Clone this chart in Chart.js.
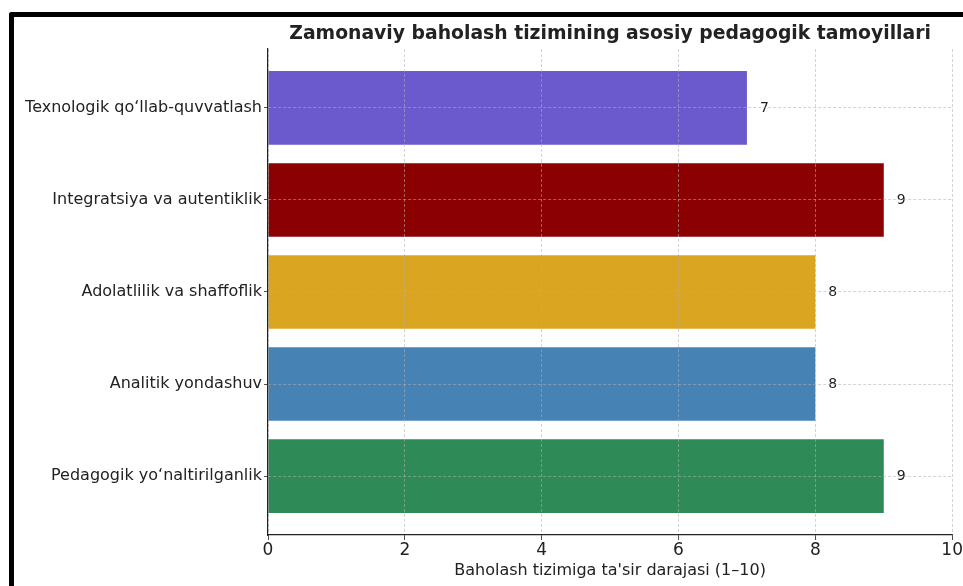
<!DOCTYPE html>
<html>
<head>
<meta charset="utf-8">
<script src="https://cdn.jsdelivr.net/npm/chart.js@4.4.1/dist/chart.umd.min.js"></script>
<style>
    body { margin: 0; background: #fff; }
    #wrap { position: relative; width: 963px; height: 586px; overflow: hidden; }
    #frame {
        position: absolute; left: 9px; top: 12px; width: 1000px; height: 600px;
        border-left: 5px solid #000; border-top: 5px solid #000;
        border-top-left-radius: 3px; pointer-events: none;
    }
</style>
</head>
<body>
<div id="wrap">
    <canvas id="chart"></canvas>
    <div id="frame"></div>
</div>
<script>
// data, bottom to top
const categories = ['Pedagogik yo\u2018naltirilganlik', 'Analitik yondashuv', 'Adolatlilik va shaffoflik', 'Integratsiya va autentiklik', 'Texnologik qo\u2018llab-quvvatlash'];
const scores = [9, 8, 8, 9, 7];
const barColors = ['#2E8B57', '#4682B4', '#DAA520', '#8B0000', '#6A5ACD'];
const xTicks = [0, 2, 4, 6, 8, 10];
const chartTitle = 'Zamonaviy baholash tizimining asosiy pedagogik tamoyillari';
const xTitle = "Baholash tizimiga ta'sir darajasi (1\u201310)";

const FONT = '"DejaVu Sans", sans-serif';
const gridColor = 'rgba(176,176,176,0.7)';

const titlePlugin = {
    id: 'centerTitle',
    afterDraw(chart) {
        const ctx = chart.ctx, a = chart.chartArea;
        ctx.save();
        ctx.font = 'bold 18.8px ' + FONT;
        ctx.fillStyle = '#222';
        ctx.textAlign = 'center';
        ctx.textBaseline = 'middle';
        ctx.fillText(chartTitle, (a.left + a.right) / 2, 34);
        ctx.restore();
    }
};

const valueLabels = {
    id: 'valueLabels',
    afterDatasetsDraw(chart) {
        const ctx = chart.ctx;
        const meta = chart.getDatasetMeta(0);
        ctx.save();
        ctx.font = '14px ' + FONT;
        ctx.fillStyle = '#222';
        ctx.textAlign = 'left';
        ctx.textBaseline = 'middle';
        meta.data.forEach((bar, i) => {
            ctx.fillText(String(scores[i]), bar.x + 13, bar.y);
        });
        ctx.restore();
    }
};

new Chart(document.getElementById('chart').getContext('2d'), {
    type: 'bar',
    data: {
        datasets: [{
            data: scores.map((v, i) => ({ x: v, y: i })),
            backgroundColor: barColors,
            borderWidth: 0,
            barPercentage: 0.8,
            categoryPercentage: 1.0
        }]
    },
    options: {
        indexAxis: 'y',
        responsive: true,
        maintainAspectRatio: false,
        animation: false,
        layout: { padding: { top: 49, right: 9, left: 0, bottom: 0 } },
        plugins: {
            legend: { display: false },
            tooltip: { enabled: false }
        },
        scales: {
            x: {
                type: 'linear',
                min: 0,
                max: 10,
                afterFit: s => { s.height = 51; },
                afterBuildTicks: axis => { axis.ticks = xTicks.map(v => ({ value: v })); },
                grid: { z: 1, color: gridColor, lineWidth: 0.8, tickColor: '#222', tickLength: 5 },
                border: { z: 1, display: true, color: '#222', width: 1.2, dash: [3, 2] },
                ticks: { color: '#222', font: { family: FONT, size: 17 }, padding: 0, maxRotation: 0 },
                title: {
                    display: true, text: xTitle, color: '#222',
                    font: { family: FONT, size: 16 }, padding: { top: 0, bottom: 6 }
                }
            },
            y: {
                type: 'linear',
                min: -0.64,
                max: 4.64,
                offset: false,
                afterFit: s => { s.width = 268; },
                afterBuildTicks: axis => { axis.ticks = categories.map((c, i) => ({ value: i })); },
                grid: { z: 1, offset: false, color: gridColor, lineWidth: 0.8, tickColor: '#222', tickLength: 4 },
                border: { z: 1, display: true, color: '#222', width: 1.2, dash: [3, 2] },
                ticks: {
                    color: '#222', font: { family: FONT, size: 16 }, padding: 2,
                    callback: v => categories[v] || ''
                }
            }
        }
    },
    plugins: [titlePlugin, valueLabels]
});
</script>
</body>
</html>
